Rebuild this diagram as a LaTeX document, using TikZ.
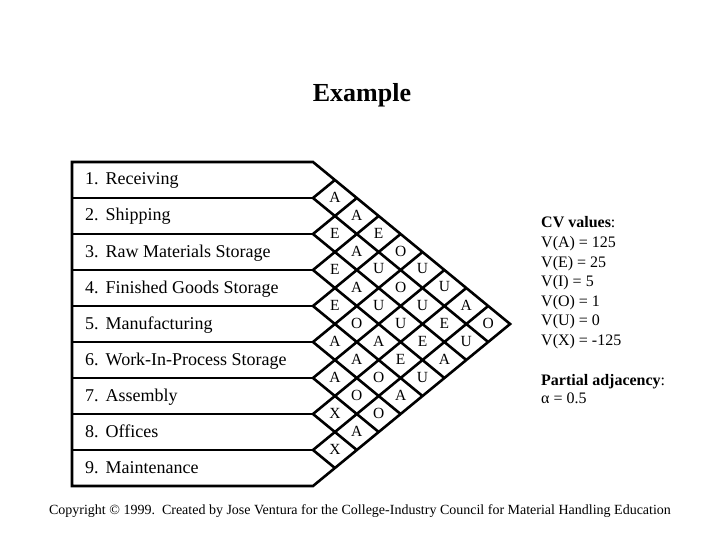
\documentclass[tikz,border=0pt]{standalone}
\usepackage{fontspec}
\setmainfont{Liberation Serif}
\begin{document}
\begin{tikzpicture}[x=1pt,y=-1pt,
  gridline/.style={line width=2.6pt, line join=miter, line cap=butt},
  lbl/.style={anchor=base west, inner sep=0pt, font=\fontsize{18}{20}\selectfont},
  rel/.style={inner sep=0pt, font=\fontsize{15.5}{16}\selectfont},
  cv/.style={anchor=base west, inner sep=0pt, font=\fontsize{16}{18}\selectfont}]
\useasboundingbox (0,0) rectangle (720,540);
\coordinate (TL) at (72,162);
\coordinate (TR) at (313,162);
\coordinate (tip) at (510.1,324);
\coordinate (BR) at (313,486);
\coordinate (BL) at (72,486);
\draw[gridline] (TL) -- (TR) -- (tip) -- (BR) -- (BL) -- cycle;
\coordinate (Va) at (313,198); \coordinate (Ua) at (334.9,180); \coordinate (Da) at (488.2,342);
\coordinate (Vb) at (313,234); \coordinate (Ub) at (356.8,198); \coordinate (Db) at (466.3,360);
\coordinate (Vc) at (313,270); \coordinate (Uc) at (378.7,216); \coordinate (Dc) at (444.4,378);
\coordinate (Vd) at (313,306); \coordinate (Ud) at (400.6,234); \coordinate (Dd) at (422.5,396);
\coordinate (Ve) at (313,342); \coordinate (Ue) at (422.5,252); \coordinate (De) at (400.6,414);
\coordinate (Vf) at (313,378); \coordinate (Uf) at (444.4,270); \coordinate (Df) at (378.7,432);
\coordinate (Vg) at (313,414); \coordinate (Ug) at (466.3,288); \coordinate (Dg) at (356.8,450);
\coordinate (Vh) at (313,450); \coordinate (Uh) at (488.2,306); \coordinate (Dh) at (334.9,468);
\foreach \k in {a,b,c,d,e,f,g,h} {
  \draw[gridline] (72,0 |- V\k) -- (V\k);
  \draw[gridline] (U\k) -- (V\k) -- (D\k);
}
\foreach \i/\j/\r in {1/2/A,1/3/A,1/4/E,1/5/O,1/6/U,1/7/U,1/8/A,1/9/O,
  2/3/E,2/4/A,2/5/U,2/6/O,2/7/U,2/8/E,2/9/U,
  3/4/E,3/5/A,3/6/U,3/7/U,3/8/E,3/9/A,
  4/5/E,4/6/O,4/7/A,4/8/E,4/9/U,
  5/6/A,5/7/A,5/8/O,5/9/A,
  6/7/A,6/8/O,6/9/O,
  7/8/X,7/9/A,
  8/9/X}
  \node[rel] (r\i\j) at ({313+(\j-\i)*21.9},{143+18*(\i+\j)}) {\r};
\foreach \k/\t in {1/Receiving,2/Shipping,3/Raw Materials Storage,4/Finished Goods Storage,5/Manufacturing,6/Work-In-Process Storage,7/Assembly,8/Offices,9/Maintenance}
  \node[lbl] (row\k) at (85,{144+36*\k+5}) {\k.\hspace{7pt}\t};
\node[anchor=base, inner sep=0pt, font=\bfseries\fontsize{26}{28}\selectfont] (title) at (362,102) {Example};
\node[cv] (cvh) at (541,228) {\textbf{CV values}:};
\node[cv] (cva) at (541,247.5) {V(A) = 125};
\node[cv] (cve) at (541,267) {V(E) = 25};
\node[cv] (cvi) at (541,286.5) {V(I) = 5};
\node[cv] (cvo) at (541,306) {V(O) = 1};
\node[cv] (cvu) at (541,325.5) {V(U) = 0};
\node[cv] (cvx) at (541,345) {V(X) = -125};
\node[cv] (pah) at (541,385) {\textbf{Partial adjacency}:};
\node[cv] (pav) at (541,403.5) {α = 0.5};
\node[anchor=base, inner sep=0pt, font=\fontsize{14}{16}\selectfont] (copy) at (360,514) {Copyright © 1999.\ \ Created by Jose Ventura for the College-Industry Council for Material Handling Education};
\end{tikzpicture}
\end{document}
